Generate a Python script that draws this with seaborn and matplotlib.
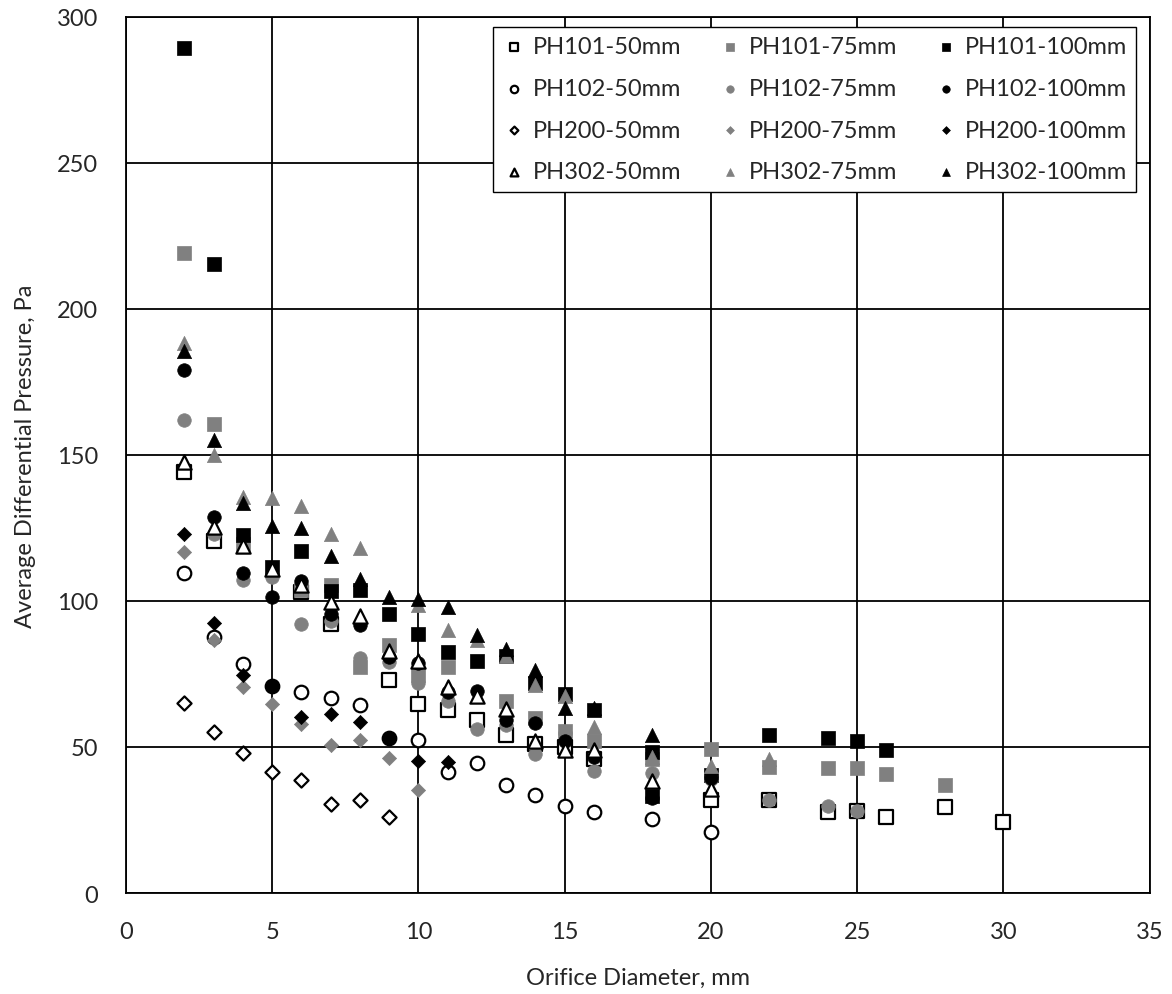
import matplotlib
matplotlib.use("Agg")
import matplotlib.pyplot as plt
import seaborn as sns
import pandas as pd

# orifice diameter (mm) / average differential pressure (Pa)
ph101_50_x = [2, 3, 6, 7, 9, 10, 11, 12, 13, 14, 15, 16, 20, 22, 24, 25, 26, 28, 30]
ph101_50_y = [144.2, 120.6, 103, 92.2, 73, 64.6, 62.8, 59.1, 54, 51.1, 50, 45.9, 32, 32, 27.6, 28, 25.9, 29.6, 24.4]
ph101_75_x = [2, 3, 4, 6, 7, 8, 9, 10, 11, 13, 14, 15, 16, 18, 20, 22, 24, 25, 26, 28]
ph101_75_y = [219, 160.7, 119.6, 103.6, 105.6, 77.3, 84.8, 74.5, 77.4, 65.9, 59.9, 55.6, 51.9, 45.9, 49.4, 43, 42.9, 42.9, 40.6, 37]
ph101_100_x = [2, 3, 4, 5, 6, 7, 8, 9, 10, 11, 12, 13, 14, 15, 16, 18, 18, 20, 22, 24, 25, 26]
ph101_100_y = [289.3, 215.3, 122.7, 111.7, 117, 103.3, 103.6, 95.6, 88.6, 82.6, 79.6, 81.3, 72, 68.2, 62.5, 48.2, 33.2, 40.5, 54, 53.2, 51.9, 49]

ph102_50_x = [2, 3, 4, 5, 6, 7, 8, 9, 10, 11, 12, 13, 14, 15, 16, 18, 20]
ph102_50_y = [109.6, 87.6, 78.5, 71, 68.8, 66.8, 64.4, 53, 52.5, 41.6, 44.6, 37.1, 33.6, 29.9, 27.7, 25.4, 21]
ph102_75_x = [2, 3, 4, 5, 6, 7, 8, 9, 10, 11, 12, 13, 14, 15, 16, 18, 20, 22, 24, 25]
ph102_75_y = [161.9, 123, 107.1, 108.2, 92.2, 93.3, 80.5, 79, 72, 65.8, 56.2, 57.7, 47.7, 54.8, 41.9, 41, 39, 31.8, 29.9, 28.1]
ph102_100_x = [2, 3, 4, 5, 5, 6, 7, 8, 9, 9, 10, 11, 12, 13, 14, 15, 16, 18, 20]
ph102_100_y = [179, 128.8, 109.6, 101.3, 71, 107, 95.6, 91.8, 80.8, 53, 78.7, 68.9, 69.2, 59.4, 58.2, 52.2, 46.5, 32.5, 39.5]

ph200_50_x = [2, 3, 4, 5, 6, 7, 8, 9]
ph200_50_y = [65.1, 55.1, 47.9, 41.4, 38.8, 30.5, 31.9, 25.9]
ph200_75_x = [2, 3, 4, 5, 6, 7, 8, 9, 10]
ph200_75_y = [116.6, 86.5, 70.5, 64.6, 57.8, 50.6, 52.4, 46.4, 35.4]
ph200_100_x = [2, 3, 4, 6, 7, 8, 10, 11]
ph200_100_y = [123, 92.6, 74.8, 60.1, 61.4, 58.5, 45.3, 44.8]

ph302_50_x = [2, 3, 4, 5, 6, 7, 8, 9, 10, 11, 12, 13, 14, 15, 16, 18, 20]
ph302_50_y = [147.6, 125.3, 118.7, 111.1, 105.3, 99.6, 95, 83, 79.6, 70.5, 67.6, 63.1, 52.2, 48.8, 48.8, 38.5, 35.7]
ph302_75_x = [2, 3, 4, 5, 6, 7, 8, 10, 11, 12, 13, 14, 15, 16, 18, 20, 22]
ph302_75_y = [188.2, 149.9, 135.6, 135.1, 132.5, 123, 118.3, 98.5, 89.9, 86.5, 81, 71.1, 67.6, 56.8, 46.5, 43.6, 46]
ph302_100_x = [2, 3, 4, 5, 6, 7, 8, 9, 10, 11, 12, 13, 14, 15, 16, 18]
ph302_100_y = [185.6, 155, 133.6, 125.7, 125.1, 115.3, 107.6, 101.3, 100.8, 97.9, 88.2, 83.4, 76.5, 63.4, 63.5, 54]

series = [
    ("PH101-50mm", ph101_50_x, ph101_50_y, "s", "open"),
    ("PH101-75mm", ph101_75_x, ph101_75_y, "s", "gray"),
    ("PH101-100mm", ph101_100_x, ph101_100_y, "s", "black"),
    ("PH102-50mm", ph102_50_x, ph102_50_y, "o", "open"),
    ("PH102-75mm", ph102_75_x, ph102_75_y, "o", "gray"),
    ("PH102-100mm", ph102_100_x, ph102_100_y, "o", "black"),
    ("PH200-50mm", ph200_50_x, ph200_50_y, "D", "open"),
    ("PH200-75mm", ph200_75_x, ph200_75_y, "D", "gray"),
    ("PH200-100mm", ph200_100_x, ph200_100_y, "D", "black"),
    ("PH302-50mm", ph302_50_x, ph302_50_y, "^", "open"),
    ("PH302-75mm", ph302_75_x, ph302_75_y, "^", "gray"),
    ("PH302-100mm", ph302_100_x, ph302_100_y, "^", "black"),
]

sns.set_style("white")
plt.rcParams["font.family"] = ["Lato", "DejaVu Sans"]

fig = plt.figure(figsize=(11.72, 9.95), dpi=100)
ax = fig.add_axes([0.1075, 0.1015, 0.8735, 0.8805])

sizes = {"s": 95, "o": 95, "D": 52, "^": 105}
for name, xs, ys, mk, style in series:
    df = pd.DataFrame({"d": xs, "p": ys})
    if style == "open":
        kw = dict(color="white", edgecolor="black", linewidth=1.6)
    elif style == "gray":
        kw = dict(color="#808080", edgecolor="#808080", linewidth=0.5)
    else:
        kw = dict(color="black", edgecolor="black", linewidth=0.5)
    sns.scatterplot(data=df, x="d", y="p", marker=mk, s=sizes[mk], ax=ax,
                    label=name, zorder=3, **kw)

ax.set_xlim(0, 35)
ax.set_ylim(0, 300)
ax.set_xticks(range(0, 36, 5))
ax.set_yticks(range(0, 301, 50))
ax.grid(True, color="black", linewidth=1.3)
ax.set_axisbelow(True)
for sp in ax.spines.values():
    sp.set_color("black")
    sp.set_linewidth(1.3)
ax.tick_params(axis="y", length=0, labelsize=17, pad=20)
ax.tick_params(axis="x", length=0, labelsize=17, pad=20)
ax.set_xlabel("Orifice Diameter, mm", fontsize=17, labelpad=18)
ax.set_ylabel("Average Differential Pressure, Pa", fontsize=17, labelpad=15)

# legend: columns by size (50 / 75 / 100 mm), rows by material
h, l = ax.get_legend_handles_labels()
lookup = dict(zip(l, h))
order = [n for size in ("50", "75", "100") for n, *_ in series if n.endswith("-" + size + "mm")]
leg = ax.legend([lookup[n] for n in order], order, ncol=3, loc="upper right",
                bbox_to_anchor=(0.987, 0.989), borderaxespad=0, fontsize=17,
                frameon=True, fancybox=False, edgecolor="black", framealpha=1,
                markerscale=0.55, handletextpad=0.3, columnspacing=1.55,
                labelspacing=0.88, handlelength=1.0, borderpad=0.4)
leg.get_frame().set_linewidth(1.0)

fig.savefig("out.png", dpi=100)
